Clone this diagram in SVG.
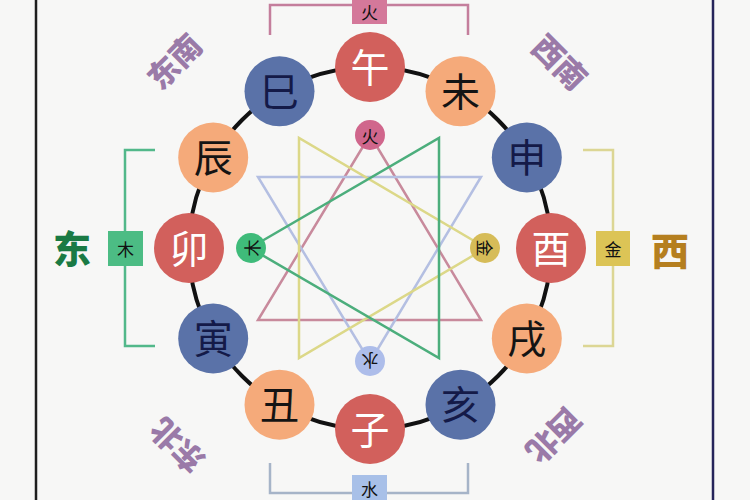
<svg xmlns="http://www.w3.org/2000/svg" width="750" height="500" viewBox="0 0 750 500">
<style>
.cjk{font-family:"Noto Sans CJK SC","Noto Sans",sans-serif;text-anchor:middle;dominant-baseline:central}
.big{font-size:39px}
.red circle{fill:#d2605c}.red text{fill:#ffffff}
.blue circle{fill:#5a72a8}.blue text{fill:#141a48}
.orange circle{fill:#f5aa7a}.orange text{fill:#141414}
.small{font-size:17px;fill:#111}
.dir{font-size:31px;font-weight:900;fill:#9a7aa8}
.tri{fill:none;stroke-width:2.5;stroke-linejoin:miter}
</style>
<rect width="750" height="500" fill="#f7f7f6"/>
<line x1="36" y1="0" x2="36" y2="500" stroke="#1e1e1e" stroke-width="2.5"/>
<line x1="713" y1="0" x2="713" y2="500" stroke="#25245a" stroke-width="2.5"/>

<g id="connectors">
<circle cx="370" cy="248" r="181" fill="none" stroke="#111" stroke-width="4"/>
<polygon class="tri" points="370,135 258,320 481,320" stroke="#c88a9c"/>
<polygon class="tri" points="258,177 481,177 370,362" stroke="#b4bfe2"/>
<polygon class="tri" points="299,138 299,358 486,248" stroke="#dcd888"/>
<polygon class="tri" points="439,138 439,358 250,248" stroke="#4cae7c"/>
<polyline points="270,35 270,5 468,5 468,35" fill="none" stroke="#c47e9c" stroke-width="2.5"/>
<polyline points="270,463 270,493 468,493 468,463" fill="none" stroke="#a6b4c8" stroke-width="2.5"/>
<polyline points="155,150 125,150 125,346 155,346" fill="none" stroke="#52b88a" stroke-width="2.5"/>
<polyline points="583,150 613,150 613,346 583,346" fill="none" stroke="#dcd694" stroke-width="2.5"/>
</g>

<g id="bracket-fire"><rect x="352" y="-4" width="35" height="28" fill="#d4789a"/><text class="cjk small" x="369.5" y="11">火</text></g>
<g id="bracket-water"><rect x="352" y="475" width="35" height="30" fill="#a8c0e8"/><text class="cjk small" x="369.5" y="488">水</text></g>
<g id="bracket-wood"><rect x="108" y="231" width="35" height="35" fill="#4cbc84"/><text class="cjk small" x="125.5" y="248.5">木</text></g>
<g id="bracket-metal"><rect x="596" y="231" width="34" height="35" fill="#dcc456"/><text class="cjk small" x="613" y="248.5">金</text></g>

<g id="n-wu" class="red"><circle cx="370" cy="67" r="35"/><text class="cjk big" x="370" y="65">午</text></g>
<g id="n-wei" class="orange"><circle cx="460.5" cy="91.3" r="35"/><text class="cjk big" x="460.5" y="89">未</text></g>
<g id="n-shen" class="blue"><circle cx="526.8" cy="157.5" r="35"/><text class="cjk big" x="526.8" y="155">申</text></g>
<g id="n-you" class="red"><circle cx="551" cy="248" r="35"/><text class="cjk big" x="551" y="246">酉</text></g>
<g id="n-xu" class="orange"><circle cx="526.8" cy="338.5" r="35"/><text class="cjk big" x="526.8" y="336">戌</text></g>
<g id="n-hai" class="blue"><circle cx="460.5" cy="404.7" r="35"/><text class="cjk big" x="460.5" y="402">亥</text></g>
<g id="n-zi" class="red"><circle cx="370" cy="429" r="35"/><text class="cjk big" x="370" y="427">子</text></g>
<g id="n-chou" class="orange"><circle cx="279.5" cy="404.7" r="35"/><text class="cjk big" x="279.5" y="402">丑</text></g>
<g id="n-yin" class="blue"><circle cx="213.2" cy="338.5" r="35"/><text class="cjk big" x="213.2" y="336">寅</text></g>
<g id="n-mao" class="red"><circle cx="189" cy="248" r="35"/><text class="cjk big" x="189" y="246">卯</text></g>
<g id="n-chen" class="orange"><circle cx="213.2" cy="157.5" r="35"/><text class="cjk big" x="213.2" y="155">辰</text></g>
<g id="n-si" class="blue"><circle cx="279.5" cy="91.3" r="35"/><text class="cjk big" x="279.5" y="89">巳</text></g>

<g id="e-fire"><circle cx="370" cy="135" r="15" fill="#d0668c"/><text class="cjk small" x="370" y="135">火</text></g>
<g id="e-wood"><circle cx="251" cy="248" r="15" fill="#3fbb7a"/><text class="cjk small" x="251" y="248" transform="rotate(-90 251 248)">木</text></g>
<g id="e-metal"><circle cx="485" cy="248" r="15" fill="#d6bc58"/><text class="cjk small" x="485" y="248" transform="rotate(90 485 248)">金</text></g>
<g id="e-water"><circle cx="370" cy="361" r="15" fill="#adbdea"/><text class="cjk small" x="370" y="361" transform="rotate(180 370 361)">水</text></g>

<g id="labels">
<text class="cjk dir" x="173" y="60" transform="rotate(-45 173 60)">东南</text>
<text class="cjk dir" x="561" y="61" transform="rotate(45 561 61)">西南</text>
<text class="cjk dir" x="176" y="447" transform="rotate(225 176 447)">东北</text>
<text class="cjk dir" x="555" y="437" transform="rotate(135 555 437)">西北</text>
<text class="cjk" style="font-size:38px;font-weight:900;fill:#1a7a44" x="72" y="246">东</text>
<text class="cjk" style="font-size:38px;font-weight:900;fill:#b57f1f" x="670" y="248">西</text>
</g>
</svg>
